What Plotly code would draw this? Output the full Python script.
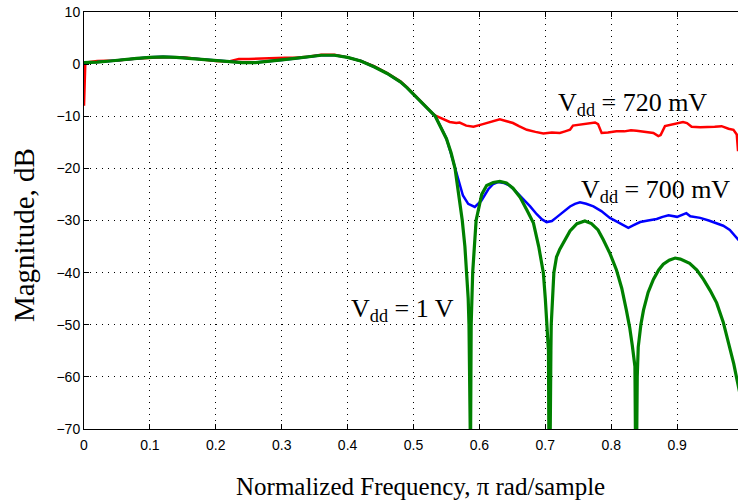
import plotly.graph_objects as go

# ---------------- data ----------------
# shared passband (normalized frequency, dB)
pass_f = [0.0, 0.005, 0.02, 0.04, 0.06, 0.08, 0.10, 0.12, 0.14, 0.16, 0.18, 0.20,
          0.22, 0.24, 0.26, 0.28, 0.30, 0.32, 0.34, 0.36, 0.38, 0.40, 0.42, 0.44,
          0.46, 0.48, 0.49, 0.50, 0.51, 0.52]
pass_db = [0.3, 0.3, 0.4, 0.6, 0.9, 1.1, 1.3, 1.4, 1.3, 1.1, 0.8, 0.6,
           0.4, 0.3, 0.3, 0.5, 0.8, 1.1, 1.4, 1.7, 1.7, 1.3, 0.6, -0.5,
           -1.8, -3.4, -4.5, -5.8, -7.2, -8.4]
# red passband (720 mV) - small bump above the ideal response
red_pass_f = [0.0, 0.002, 0.02, 0.05, 0.08, 0.10, 0.12, 0.15, 0.18, 0.20, 0.22,
              0.235, 0.25, 0.27, 0.29, 0.305, 0.32, 0.34, 0.36, 0.38, 0.40, 0.42,
              0.44, 0.46, 0.48, 0.49, 0.50, 0.51, 0.52]
red_pass_db = [-8.0, 0.3, 0.6, 0.7, 1.1, 1.2, 1.3, 1.3, 0.9, 0.6, 0.5,
               1.0, 1.0, 1.1, 1.1, 1.2, 1.2, 1.4, 1.8, 1.8, 1.3, 0.6,
               -0.4, -1.7, -3.3, -4.4, -5.7, -7.0, -8.3]

# Vdd = 1 V stopband
green_f = [0.533, 0.55, 0.557, 0.563, 0.569, 0.574, 0.578, 0.581, 0.583, 0.5842,
           0.585, 0.5865, 0.5875, 0.5898, 0.595, 0.6035, 0.611, 0.621, 0.631, 0.641,
           0.651, 0.662, 0.672, 0.682, 0.690, 0.697, 0.700, 0.703, 0.7048, 0.7055,
           0.7072, 0.7085, 0.709, 0.713, 0.717, 0.722, 0.7375, 0.748, 0.760, 0.770,
           0.780, 0.788, 0.798, 0.808, 0.816, 0.823, 0.828, 0.832, 0.836, 0.837,
           0.8385, 0.8395, 0.841, 0.845, 0.849, 0.856, 0.864, 0.872, 0.879, 0.888,
           0.897, 0.905, 0.912, 0.919, 0.930, 0.940, 0.950, 0.960, 0.970, 0.980,
           0.986, 0.990, 0.995]
green_db = [-10.0, -14.3, -17.0, -20.0, -25.0, -30.0, -35.0, -40.0, -45.0, -50.0,
            -75.0, -75.0, -50.0, -40.0, -30.0, -25.0, -23.3, -22.7, -22.5, -22.8,
            -23.8, -25.6, -28.0, -30.5, -35.0, -40.0, -45.0, -50.0, -55.0, -75.0,
            -75.0, -55.0, -50.0, -40.0, -37.0, -35.5, -32.0, -30.6, -30.1, -30.6,
            -31.8, -33.7, -36.3, -39.5, -43.0, -47.2, -50.5, -54.0, -58.0, -75.0,
            -75.0, -60.0, -54.3, -50.0, -47.2, -43.8, -41.3, -39.5, -38.4, -37.6,
            -37.2, -37.4, -37.8, -38.2, -39.5, -41.3, -43.4, -45.8, -49.5, -54.3,
            -57.5, -60.0, -63.0]

# Vdd = 700 mV stopband
blue_f = [0.533, 0.545, 0.550, 0.556, 0.565, 0.575, 0.583, 0.593, 0.603, 0.6135,
          0.621, 0.629, 0.637, 0.646, 0.656, 0.667, 0.677, 0.687, 0.695, 0.702,
          0.710, 0.717, 0.727, 0.7375, 0.745, 0.7526, 0.762, 0.773, 0.785, 0.798,
          0.810, 0.820, 0.826, 0.834, 0.844, 0.856, 0.869, 0.878, 0.887, 0.900,
          0.907, 0.914, 0.920, 0.935, 0.948, 0.960, 0.970, 0.980, 0.990, 0.995]
blue_db = [-10.0, -13.0, -14.3, -16.8, -20.8, -25.2, -26.8, -27.4, -26.2, -24.0,
           -23.0, -22.6, -22.8, -23.3, -24.5, -25.9, -27.3, -28.8, -29.8, -30.3,
           -30.1, -29.4, -28.4, -27.3, -26.8, -26.5, -26.8, -27.3, -28.2, -29.5,
           -30.3, -31.0, -31.4, -30.9, -30.3, -30.0, -29.7, -29.3, -29.0, -29.3,
           -29.0, -28.6, -29.2, -29.5, -30.0, -30.5, -31.0, -31.8, -33.3, -34.0]

# Vdd = 720 mV stopband
red_f = [0.530, 0.535, 0.545, 0.555, 0.565, 0.570, 0.580, 0.591, 0.600, 0.611,
         0.620, 0.631, 0.640, 0.651, 0.660, 0.672, 0.685, 0.697, 0.710, 0.722,
         0.730, 0.7375, 0.742, 0.755, 0.765, 0.7755, 0.780, 0.7855, 0.795, 0.808,
         0.820, 0.830, 0.8385, 0.850, 0.864, 0.8715, 0.875, 0.8816, 0.895, 0.909,
         0.915, 0.922, 0.935, 0.945, 0.957, 0.9675, 0.978, 0.9855, 0.9905, 0.9925]
red_db = [-9.6, -10.0, -10.6, -11.1, -11.3, -11.2, -11.8, -12.0, -11.7, -11.3,
          -10.9, -10.6, -10.9, -11.3, -11.9, -12.6, -13.0, -13.3, -13.1, -13.2,
          -12.9, -12.6, -11.8, -11.6, -11.4, -11.2, -11.5, -13.2, -13.1, -12.9,
          -12.9, -12.7, -12.8, -13.0, -13.2, -13.8, -13.6, -11.9, -11.5, -11.1,
          -11.3, -12.0, -12.1, -12.1, -12.0, -11.9, -12.4, -12.6, -13.5, -16.7]

x_ticks = [0.0, 0.1, 0.2, 0.3, 0.4, 0.5, 0.6, 0.7, 0.8, 0.9]
x_tick_text = ["0", "0.1", "0.2", "0.3", "0.4", "0.5", "0.6", "0.7", "0.8", "0.9"]
y_ticks = [10, 0, -10, -20, -30, -40, -50, -60, -70]

labels = ["V<sub>dd</sub> = 720 mV", "V<sub>dd</sub> = 700 mV", "V<sub>dd</sub> = 1 V"]
label_x = [0.8316, 0.8665, 0.4826]
label_y = [-7.6, -24.4, -47.1]

# ---------------- figure ----------------
fig = go.Figure()
fig.add_trace(go.Scatter(x=red_pass_f + red_f, y=red_pass_db + red_db, mode="lines",
                         line=dict(color="#ff0000", width=2.5), showlegend=False))
fig.add_trace(go.Scatter(x=pass_f + blue_f, y=pass_db + blue_db, mode="lines",
                         line=dict(color="#0000ff", width=2.5), showlegend=False))
fig.add_trace(go.Scatter(x=pass_f + green_f, y=pass_db + green_db, mode="lines",
                         line=dict(color="#008000", width=3.2), showlegend=False))

serif = "Liberation Serif, Times New Roman, serif"
sans = "Liberation Sans, Arial, sans-serif"

for t, xx, yy in zip(labels, label_x, label_y):
    fig.add_annotation(x=xx, y=yy, xref="x", yref="y", text=t, showarrow=False,
                       font=dict(family=serif, size=26, color="black"),
                       xanchor="center", yanchor="middle")

fig.add_annotation(x=0.515, y=-0.139, xref="paper", yref="paper",
                   text="Normalized Frequency, π rad/sample", showarrow=False,
                   font=dict(family=serif, size=25, color="black"),
                   xanchor="center", yanchor="middle")
fig.add_annotation(x=-0.0917, y=0.465, xref="paper", yref="paper",
                   text="Magnitude, dB", showarrow=False, textangle=-90,
                   font=dict(family=serif, size=29, color="black"),
                   xanchor="center", yanchor="middle")

axis_common = dict(showline=True, linecolor="black", linewidth=1,
                   ticks="inside", ticklen=5, tickwidth=1, tickcolor="black",
                   showgrid=True, gridcolor="black", gridwidth=1, griddash="1px,5px",
                   zeroline=False,
                   tickfont=dict(family=sans, size=14, color="black"))

fig.update_xaxes(range=[0, 0.9924], tickvals=x_ticks, ticktext=x_tick_text,
                 mirror="ticks", ticklabelstandoff=3, **axis_common)
fig.update_yaxes(range=[-70, 10], tickvals=y_ticks, mirror=False, **axis_common)

fig.update_layout(width=738, height=504,
                  margin=dict(l=84, r=0, t=12, b=75),
                  plot_bgcolor="white", paper_bgcolor="white")

# remove the default page margin so the 738x504 figure fills the window exactly
fig.write_html("out.html",
               config={"displayModeBar": False},
               post_script="document.body.style.margin='0';"
                           "document.body.style.overflow='hidden';")
